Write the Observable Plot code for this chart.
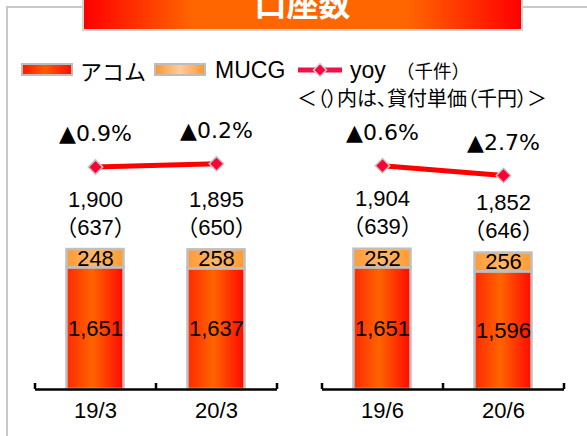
<!DOCTYPE html>
<html lang="ja">
<head>
<meta charset="utf-8">
<script src="https://cdn.jsdelivr.net/npm/d3@7"></script>
<script src="https://cdn.jsdelivr.net/npm/@observablehq/plot@0.6"></script>
<style>
  html, body { margin: 0; padding: 0; background: #fff; }
  #wrap { position: relative; width: 587px; height: 436px; overflow: hidden; background: #fff;
          font-family: "Liberation Sans", "Noto Sans CJK JP", sans-serif; color: #000; }
  .abs { position: absolute; white-space: nowrap; }
  #frame { left: 6px; top: 6px; width: 600px; height: 460px; border-top: 2.5px solid #c8c8c8; border-left: 2.5px solid #c8c8c8; }
  #banner { left: 82px; top: -4px; width: 441px; height: 35px; box-sizing: border-box; border: 2.5px solid #d4d4d4;
            background: linear-gradient(to right, #ff0000 0%, #ff6600 25%, #ff6600 74%, #ff0000 100%); }
  .sw { height: 13px; width: 52px; box-sizing: border-box; border: 2px solid #bdbdbd; }
  #sw1 { left: 21px; top: 63px; background: linear-gradient(to right, #ff1a00 0%, #ff5a00 45%, #ff1000 100%); }
  #sw2 { left: 154px; top: 63px; background: linear-gradient(to right, #ff9933 0%, #ffcc99 50%, #ff9933 100%); }
  .lg { line-height: 24px; top: 58px; }
  .plot { position: absolute; left: 0; top: 0; }
  .cjk { font-family: "Noto Sans CJK JP", sans-serif; }
  .palt { font-feature-settings: "palt" 1; }
</style>
</head>
<body>
<div id="wrap">
  <svg width="0" height="0" style="position:absolute">
    <defs>
      <linearGradient id="gRed" x1="0" y1="0" x2="1" y2="0">
        <stop offset="0" stop-color="#ff2a00"/>
        <stop offset="0.45" stop-color="#ff6400"/>
        <stop offset="1" stop-color="#ff0a00"/>
      </linearGradient>
      <linearGradient id="gOrange" x1="0" y1="0" x2="1" y2="0">
        <stop offset="0" stop-color="#ff9a35"/>
        <stop offset="0.5" stop-color="#ffb868"/>
        <stop offset="1" stop-color="#ff9a30"/>
      </linearGradient>
    </defs>
  </svg>
  <div id="frame" class="abs"></div>
  <div id="banner" class="abs"></div>
  <svg class="abs" style="left:0;top:0" width="587" height="40">
    <text id="title" x="302.5" y="16" text-anchor="middle" font-size="32" font-weight="bold" fill="#fff"
          font-family="'Noto Sans CJK JP', sans-serif"></text>
  </svg>
  <div id="sw1" class="abs sw"></div>
  <div id="lg1" class="abs lg cjk" style="left:80px;font-size:22px;"></div>
  <div id="sw2" class="abs sw"></div>
  <div id="lg2" class="abs lg" style="left:215px;font-size:23px;"></div>
  <svg class="abs" style="left:297px;top:63px" width="46" height="14">
    <line x1="1" y1="7" x2="45" y2="7" stroke="#f0104a" stroke-width="5"/>
    <path d="M23,0.5 L29.5,7 L23,13.5 L16.5,7 Z" fill="#ff0040" stroke="#d0d0d0" stroke-width="1.5"/>
  </svg>
  <div id="lg3" class="abs lg" style="left:350px;font-size:23px;"></div>
  <div id="unit" class="abs lg cjk" style="left:396px;font-size:18.5px;"></div>
  <div id="note" class="abs cjk palt" style="left:297px;top:86px;line-height:24px;font-size:20px;"></div>
</div>
<script>
// ---- data ----
const title = "口座数";
const seriesNames = ["アコム", "MUCG"];
const lineName = "yoy";
const unitNote = "（千件）";
const priceNote = "＜（）内は、貸付単価（千円）＞";
const periods = ["19/3", "20/3", "19/6", "20/6"];
const acom = [1651, 1637, 1651, 1596];
const mucg = [248, 258, 252, 256];
const totals = [1900, 1895, 1904, 1852];
const unitPrice = [637, 650, 639, 646];
const yoy = [-0.9, -0.2, -0.6, -2.7];

// ---- text ----
document.getElementById("title").textContent = title;
document.getElementById("lg1").textContent = seriesNames[0];
document.getElementById("lg2").textContent = seriesNames[1];
document.getElementById("lg3").textContent = lineName;
document.getElementById("unit").textContent = unitNote;
document.getElementById("note").textContent = priceNote;

// ---- tables ----
const rows = periods.map((p, i) => ({
  period: p, group: p.split("/")[1], slot: i % 2,
  total: totals[i], price: unitPrice[i], yoy: yoy[i]
}));
const stacked = [
  ...rows.map((r, i) => ({...r, series: seriesNames[0], value: acom[i]})),
  ...rows.map((r, i) => ({...r, series: seriesNames[1], value: mucg[i]}))
];
const groups = Array.from(new Set(rows.map(r => r.group)));
const fmt = d3.format(",");
const FONT = "'Liberation Sans', 'DejaVu Sans', 'Noto Sans CJK JP', sans-serif";

const common = {
  width: 587, height: 436,
  marginLeft: 34.5, marginRight: 23.5, marginTop: 0, marginBottom: 0,
  fx: {domain: groups, paddingInner: 0.157, paddingOuter: 0, axis: null, label: null},
  x: {domain: [0, 1], type: "band", paddingInner: 0.525, paddingOuter: 0.2625, axis: null},
  style: {background: "transparent", overflow: "visible", fontFamily: FONT, fontSize: "22px", color: "#000"}
};

const main = Plot.plot({
  ...common,
  y: {domain: [0, 2000], range: [389, 241.6], axis: null},
  color: {domain: seriesNames, range: ["url(#gRed)", "url(#gOrange)"]},
  marks: [
    Plot.barY(stacked, {fx: "group", x: "slot", y: "value", fill: "series", stroke: "#bfbfbf", strokeWidth: 2.5}),
    Plot.text(stacked, Plot.stackY({fx: "group", x: "slot", y: "value", z: "series",
      text: d => fmt(d.value), fontSize: 22, fill: "#000"})),
    Plot.text(rows, {fx: "group", x: "slot", y: "total", text: d => fmt(d.total), dy: -50, fontSize: 22, fill: "#000"}),
    Plot.text(rows, {fx: "group", x: "slot", y: "total", text: d => `（${d.price}）`, dy: -22, fontSize: 22, fill: "#000"}),
    Plot.ruleY([0], {stroke: "#000", strokeWidth: 2.5}),
    Plot.ruleX(rows, {fx: "group", x: "slot", y1: 0, y2: 0, dx: -60.5, insetTop: -6, stroke: "#000", strokeWidth: 2.5}),
    Plot.ruleX(rows.filter(r => r.slot === 1), {fx: "group", x: "slot", y1: 0, y2: 0, dx: 60.5, insetTop: -6, stroke: "#000", strokeWidth: 2.5}),
    Plot.text(rows, {fx: "group", x: "slot", y: 0, text: "period", dy: 21, fontSize: 22, fill: "#000"})
  ]
});
main.classList.add("plot");
document.getElementById("wrap").appendChild(main);

const over = Plot.plot({
  ...common,
  y: {domain: [-3, 0], range: [176.4, 162.4], axis: null},
  marks: [
    Plot.lineY(rows, {fx: "group", x: "slot", y: "yoy", stroke: "#ff0000", strokeWidth: 5}),
    Plot.dot(rows, {fx: "group", x: "slot", y: "yoy", symbol: "diamond2", r: 6.5, fill: "#ff0036", stroke: "#c4c4c4", strokeWidth: 1.5}),
    Plot.text(rows, {fx: "group", x: "slot", y: "yoy", text: d => "▲" + Math.abs(d.yoy).toFixed(1) + "%", dy: -33, fontSize: 22, fill: "#000",
      fontFamily: "'DejaVu Sans', 'Liberation Sans', sans-serif"})
  ]
});
over.classList.add("plot");
over.style.pointerEvents = "none";
document.getElementById("wrap").appendChild(over);
</script>
</body>
</html>
